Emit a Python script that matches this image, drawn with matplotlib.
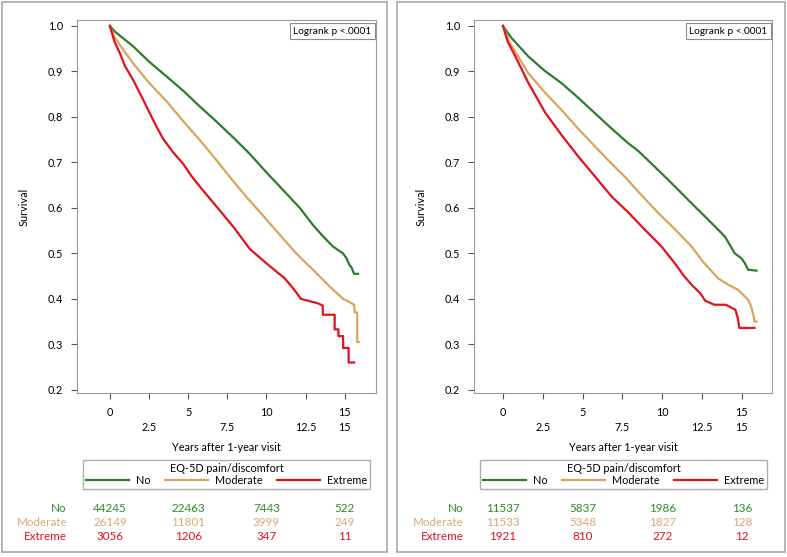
import matplotlib
matplotlib.use("Agg")
import matplotlib.pyplot as plt
from matplotlib.lines import Line2D
from matplotlib.patches import Rectangle
from matplotlib.transforms import blended_transform_factory

plt.rcParams['font.family'] = ['Lato', 'DejaVu Sans']

# ---- data ----
groups = ["No", "Moderate", "Extreme"]
risk_times = [0, 5, 10, 15]

# left panel
left_no_t = [0, 0.3, 1.49, 2.55, 3.62, 4.7, 5.74, 6.8, 7.87, 8.9, 10.0, 10.85, 12.13, 12.98, 13.6, 14.25,
             14.89, 15.1, 15.3, 15.45, 15.6, 15.85]
left_no_s = [1.0, 0.988, 0.955, 0.92, 0.889, 0.857, 0.823, 0.79, 0.755, 0.72, 0.678, 0.647, 0.600, 0.562, 0.538, 0.515,
             0.50, 0.49, 0.475, 0.468, 0.455, 0.455]
left_mod_t = [0, 0.3, 0.8, 1.48, 2.5, 3.63, 4.7, 5.77, 6.8, 7.66, 8.7, 9.78, 10.85, 11.9, 13.0, 14.04, 14.9,
              15.3, 15.6, 15.64, 15.8, 15.8, 15.9]
left_mod_s = [1.0, 0.975, 0.95, 0.918, 0.875, 0.834, 0.79, 0.748, 0.705, 0.668, 0.625, 0.583, 0.541, 0.50, 0.463,
              0.427, 0.40, 0.393, 0.387, 0.37, 0.37, 0.305, 0.305]
left_ext_t = [0, 0.3, 0.64, 0.96, 1.49, 2.02, 2.55, 3.0, 3.4, 4.04, 4.68, 5.21, 5.74, 6.81, 7.87, 8.93, 10.0, 11.17,
              11.78, 12.2, 13.3, 13.6, 13.6, 14.36, 14.36, 14.6, 14.6, 14.9, 14.9, 15.25, 15.25, 15.6]
left_ext_s = [1.0, 0.965, 0.94, 0.912, 0.881, 0.845, 0.808, 0.777, 0.752, 0.722, 0.697, 0.670, 0.647, 0.603, 0.559,
              0.510, 0.478, 0.445, 0.42, 0.40, 0.39, 0.385, 0.365, 0.365, 0.333, 0.333, 0.318, 0.318, 0.292, 0.292,
              0.26, 0.26]
left_risk = {"No": [44245, 22463, 7443, 522],
             "Moderate": [26149, 11801, 3999, 249],
             "Extreme": [3056, 1206, 347, 11]}

# right panel
right_no_t = [0, 0.5, 1.59, 2.6, 3.68, 4.7, 5.78, 6.8, 7.87, 8.5, 9.96, 10.8, 11.85, 12.89, 13.94, 14.56, 14.98,
              15.2, 15.4, 15.93]
right_no_s = [1.0, 0.975, 0.933, 0.902, 0.874, 0.843, 0.808, 0.775, 0.742, 0.725, 0.676, 0.647, 0.610, 0.574, 0.537,
              0.50, 0.489, 0.478, 0.464, 0.462]
right_mod_t = [0, 0.4, 1.59, 2.6, 3.68, 4.7, 5.78, 6.8, 7.66, 8.7, 9.75, 10.8, 11.85, 12.6, 13.52, 14.2, 14.77, 15.4,
               15.59, 15.75, 15.8, 15.93]
right_mod_s = [1.0, 0.965, 0.896, 0.855, 0.815, 0.775, 0.735, 0.698, 0.668, 0.628, 0.589, 0.553, 0.515, 0.48, 0.445,
               0.43, 0.42, 0.398, 0.383, 0.361, 0.35, 0.35]
right_ext_t = [0, 0.3, 0.75, 1.59, 2.64, 3.68, 4.73, 5.78, 6.82, 7.87, 8.91, 9.96, 10.8, 11.4, 11.85, 12.4, 12.7,
               13.28, 14.0, 14.6, 14.6, 14.75, 14.75, 14.85, 14.85, 15.8]
right_ext_s = [1.0, 0.965, 0.935, 0.875, 0.810, 0.760, 0.713, 0.669, 0.625, 0.59, 0.552, 0.515, 0.478, 0.449, 0.431,
               0.412, 0.396, 0.387, 0.387, 0.376, 0.376, 0.358, 0.358, 0.336, 0.336, 0.336]
right_risk = {"No": [11537, 5837, 1986, 136],
              "Moderate": [11533, 5348, 1827, 128],
              "Extreme": [1921, 810, 272, 12]}

colors = {"No": "#2b7d2b", "Moderate": "#d9a55a", "Extreme": "#e3101f"}
text_colors = {"No": "#2b8a2b", "Moderate": "#d4a878", "Extreme": "#e3101f"}

W, H = 787, 557
fig = plt.figure(figsize=(W / 100, H / 100), dpi=100)


def fx(px):
    return px / W


def fy(py):
    return 1 - py / H


def panel(border, axbox, xlim, curves, risk, legbox):
    # outer grey frame
    bx0, by0, bx1, by1 = border
    fig.patches.append(Rectangle((fx(bx0), fy(by1)), fx(bx1 - bx0), (by1 - by0) / H,
                                 transform=fig.transFigure, fill=False, edgecolor="#a8a8a8", lw=1.2))
    x0, y0, x1, y1 = axbox
    ax = fig.add_axes([fx(x0), fy(y1), fx(x1 - x0), (y1 - y0) / H])
    for name, (t, s) in zip(groups, curves):
        ax.plot(t, s, color=colors[name], lw=1.6)
    ax.set_xlim(*xlim)
    ax.set_ylim(0.193, 1.013)
    ax.set_yticks([0.2, 0.3, 0.4, 0.5, 0.6, 0.7, 0.8, 0.9, 1.0])
    ax.set_yticklabels(["0.2", "0.3", "0.4", "0.5", "0.6", "0.7", "0.8", "0.9", "1.0"])
    ax.set_xticks([0, 2.5, 5, 7.5, 10, 12.5, 15])
    ax.set_xticklabels(["0", "\n2.5", "5", "\n7.5", "10", "\n12.5", "15\n15"], linespacing=1.5)
    ax.tick_params(labelsize=7.8, length=4, color="#555555", pad=6)
    for sp in ax.spines.values():
        sp.set_color("#9a9a9a")
    ax.set_ylabel("Survival", fontsize=7.8, labelpad=13)
    ax.set_xlabel("Years after 1-year visit", fontsize=7.8, labelpad=6)
    ax.text(0.985, 0.982, "Logrank p <.0001", transform=ax.transAxes, ha="right", va="top", fontsize=7.3,
            bbox=dict(boxstyle="square,pad=0.35", fc="white", ec="#8a8a8a", lw=0.8))

    # legend
    lx0, ly0, lx1, ly1 = legbox
    handles = [Line2D([], [], color=colors[g], lw=1.6) for g in groups]
    leg = fig.legend(handles, groups, ncol=3, title="EQ-5D pain/discomfort", title_fontsize=7.8, fontsize=7.8,
                     loc="center", bbox_to_anchor=(fx((lx0 + lx1) / 2), fy((ly0 + ly1) / 2)),
                     handlelength=4.0, handletextpad=0.65, columnspacing=1.3,
                     borderpad=0.25, borderaxespad=0, fancybox=False, frameon=True)
    leg.get_frame().set_edgecolor("#9a9a9a")
    leg.get_frame().set_linewidth(1.0)
    leg._legend_box.sep = 1

    # numbers at risk
    tr = blended_transform_factory(ax.transData, fig.transFigure)
    rows_y = [509, 523, 537]
    for g, ry in zip(groups, rows_y):
        fig.text(fx(axbox[0] - 10), fy(ry), g, ha="right", va="center", fontsize=8.4, color=text_colors[g])
        for t, n in zip(risk_times, risk[g]):
            ax.text(t, fy(ry), str(n), transform=tr, ha="center", va="center", fontsize=8.4, color=text_colors[g])
    return ax


panel((2, 2, 387, 552), (77, 20, 376, 393), (-2.1, 17.0),
      [(left_no_t, left_no_s), (left_mod_t, left_mod_s), (left_ext_t, left_ext_s)],
      left_risk, (84, 461, 369, 488))
panel((397, 2, 785, 552), (474, 20, 772, 393), (-1.82, 16.9),
      [(right_no_t, right_no_s), (right_mod_t, right_mod_s), (right_ext_t, right_ext_s)],
      right_risk, (481, 461, 766, 488))

fig.savefig("out.png", dpi=100)
